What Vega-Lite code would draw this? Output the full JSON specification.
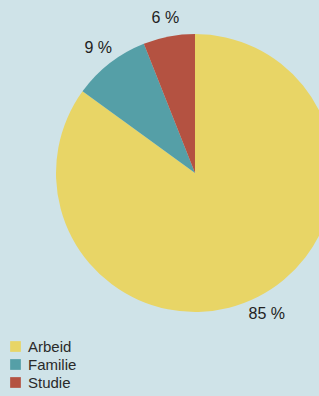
{
  "$schema": "https://vega.github.io/schema/vega-lite/v6.json",
  "width": 248,
  "height": 346,
  "autosize": {"type": "none"},
  "padding": {"left": 71, "top": 0, "right": 0, "bottom": 50},
  "background": "#CFE3E8",
  "config": {"view": {"stroke": null}, "font": "Liberation Sans"},
  "data": {
    "values": [
      {"kategori": "Arbeid", "andel": 85, "etikett": "85 %"},
      {"kategori": "Familie", "andel": 9, "etikett": "9 %"},
      {"kategori": "Studie", "andel": 6, "etikett": "6 %"}
    ]
  },
  "encoding": {
    "theta": {"field": "andel", "type": "quantitative", "stack": true},
    "order": {"field": "kategori", "type": "ordinal"}
  },
  "layer": [
    {
      "mark": {"type": "arc", "outerRadius": 139, "strokeWidth": 0},
      "encoding": {
        "color": {
          "field": "kategori",
          "type": "nominal",
          "scale": {"domain": ["Arbeid", "Familie", "Studie"], "range": ["#E8D566", "#559FA7", "#B45241"]},
          "legend": {
            "title": null,
            "orient": "none",
            "legendX": -63,
            "legendY": 339,
            "symbolType": "square",
            "symbolSize": 115,
            "symbolStrokeWidth": 0,
            "labelFontSize": 15,
            "labelColor": "#2a2a2a",
            "labelOffset": 5,
            "rowPadding": 2
          }
        }
      }
    },
    {
      "mark": {"type": "text", "radius": 158, "fontSize": 16, "fill": "#222222"},
      "encoding": {
        "text": {"field": "etikett", "type": "nominal"},
        "detail": {"field": "kategori", "type": "nominal"}
      }
    }
  ]
}
